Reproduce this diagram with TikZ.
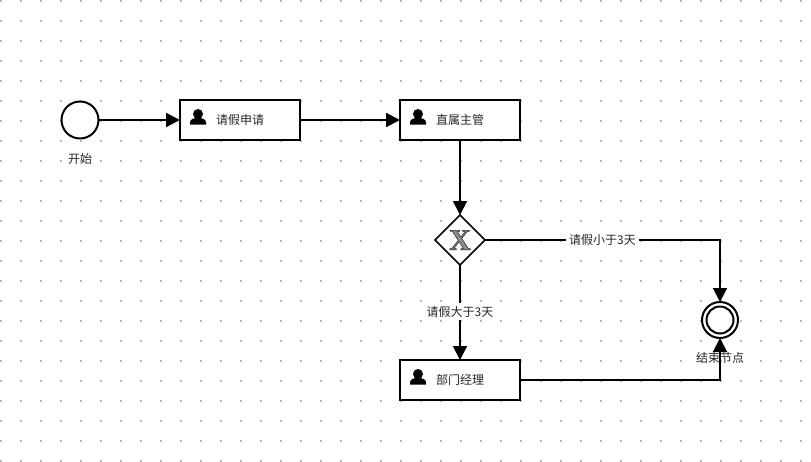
\documentclass[tikz,border=0pt]{standalone}
\usepackage{fontspec}
\setmainfont{Noto Sans CJK SC}
\newfontfamily\iconfont[FakeBold=1.2]{Liberation Serif Bold}
\usetikzlibrary{arrows.meta,shapes.geometric}
\begin{document}
\begin{tikzpicture}[x=1pt, y=-1pt, font=\fontsize{12}{14}\selectfont, >={Triangle[length=14pt,width=14pt]},
    task/.style={rectangle, draw=black, line width=2pt, fill=white, minimum width=120pt,
                 minimum height=40pt, inner sep=0pt, outer sep=0pt, text=black!85},
    event/.style={circle, draw=black, line width=2pt, fill=white, minimum size=37pt, inner sep=0pt, outer sep=0pt},
    gateway/.style={diamond, draw=black, line width=1.5pt, fill=white, minimum width=50pt, minimum height=50pt,
                    inner sep=0pt, outer sep=0pt, font=\iconfont\fontsize{30}{30}\selectfont, text=black!45},
    caption/.style={inner sep=1pt, text=black!85},
    edgelabel/.style={fill=white, inner sep=3pt, text=black!85},
    griddot/.style={fill=black!28},
    flow/.style={->, line width=2pt, draw=black},
    person/.pic={
        \fill [black] (0,-6) circle (5pt);
        \fill [black] (-8,4.5) -- (-8,2.5) .. controls (-8,-1) and (-4,-2) .. (0,-2)
              .. controls (4,-2) and (8,-1) .. (8,2.5) -- (8,4.5) -- cycle;
    }]

    \useasboundingbox (0,0) rectangle (811,461);

    % grid
    \foreach \x in {0,...,40} {
        \foreach \y in {0,...,23} {
            \fill [griddot] (20*\x,20*\y) rectangle ++(2,2);
        }
    }

    \node (start) [event] at (80,120) {};
    \node (startlabel) [caption] at (80,159) {开始};
    \node (apply) [task] at (240,120) {请假申请};
    \node (super) [task] at (460,120) {直属主管};
    \node (gate) [gateway] at (460,240) {\special{pdf:code 0 0 0 RG}X};
    \node (dept) [task] at (460,380) {部门经理};
    \node (stop) [event, minimum size=36pt] at (720,320) {};
    \node (stopin) [circle, draw=black, line width=2pt, minimum size=27pt, inner sep=0pt] at (stop) {};

    \pic at (198,120) {person};
    \pic at (418,120) {person};
    \pic at (418,380) {person};

    % flows
    \draw [flow] (start) -- (apply);
    \draw [flow] (apply) -- (super);
    \draw [flow] (super) -- (gate);
    \draw [flow] (gate) -- node[edgelabel, pos=0.49] {请假大于3天} (dept);
    \draw [flow] (gate.east) -| node[edgelabel, pos=0.25] {请假小于3天} (stop.north);
    \draw [flow] (dept.east) -| (stop.south);

    \node (stoplabel) [caption] at (720,358) {结束节点};
\end{tikzpicture}
\end{document}
